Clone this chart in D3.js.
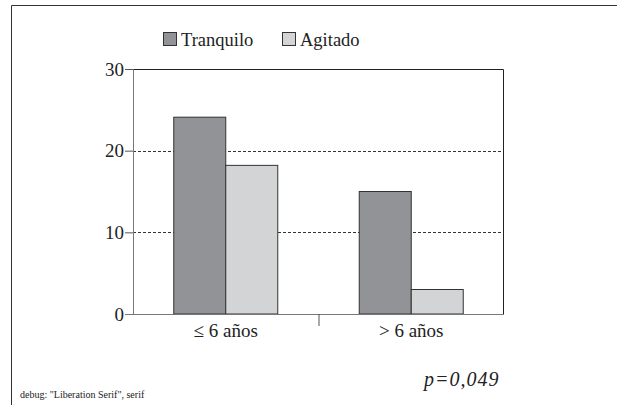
<!DOCTYPE html>
<html>
<head>
<meta charset="utf-8">
<script src="https://cdn.jsdelivr.net/npm/d3@7"></script>
</head>
<body style="margin:0">
<svg id="chart"></svg>
<script>
// data
var categories = ["≤ 6 años", "> 6 años"]
var seriesNames = ["Tranquilo", "Agitado"]
var tranquilo = [24.1, 15]
var agitado = [18.2, 3]
var yTicks = [0, 10, 20, 30]
var colors = ["#929396", "#d3d4d6"]

var size = {width:617, height:405}
var margins = {left:133, right:113, top:69, bottom:91}
var graph = {
    width: size.width - margins.left - margins.right,
    height: size.height - margins.top - margins.bottom
}

var svg = d3.select("#chart")
    .attr("width", size.width)
    .attr("height", size.height)

svg.append("style")
   .text("text{font-family:'Liberation Serif',serif !important;fill:#222}")

// outer frame (cropped at right / bottom)
svg.append("path")
   .attr("d", "M11.5," + size.height + "V5.5H" + size.width)
   .attr("fill", "none")
   .attr("stroke", "#333")

var xScale = d3.scaleBand()
    .domain(categories)
    .range([0, graph.width])

var xInner = d3.scaleBand()
    .domain(seriesNames)
    .range([0, 104])

var yScale = d3.scaleLinear()
    .domain([0, 30])
    .range([graph.height, 0])

var target = svg.append("g")
    .attr("transform", "translate(" + margins.left + "," + margins.top + ")")

// dashed grid
target.selectAll("line.grid")
    .data([10, 20])
    .enter()
    .append("line")
    .attr("x1", 0)
    .attr("x2", graph.width)
    .attr("y1", function(d){return Math.round(yScale(d)) + 0.5})
    .attr("y2", function(d){return Math.round(yScale(d)) + 0.5})
    .attr("stroke", "#333")
    .attr("stroke-dasharray", "3,2")

// top and right border
target.append("path")
    .attr("d", "M0,0.5H" + (graph.width - 0.5) + "V" + graph.height)
    .attr("fill", "none")
    .attr("stroke", "#222")

// bars
var rows = categories.map(function(c, i){
    return {cat: c, values: [tranquilo[i], agitado[i]]}
})

var groups = target.selectAll("g.group")
    .data(rows)
    .enter()
    .append("g")
    .attr("transform", function(d){
        return "translate(" + (xScale(d.cat) + xScale.bandwidth()/2 - 52) + ",0)"
    })

groups.selectAll("rect")
    .data(function(d){
        return d.values.map(function(v, j){return {name: seriesNames[j], value: v, idx: j}})
    })
    .enter()
    .append("rect")
    .attr("x", function(d){return xInner(d.name)})
    .attr("y", function(d){return yScale(d.value)})
    .attr("width", xInner.bandwidth())
    .attr("height", function(d){return graph.height - yScale(d.value)})
    .attr("fill", function(d){return colors[d.idx]})
    .attr("stroke", "#333")

// y axis
var yAxis = d3.axisLeft(yScale).tickValues(yTicks).tickSize(8).tickPadding(1)
var yg = target.append("g").call(yAxis)
yg.attr("font-size", 19)
yg.select(".domain").attr("stroke", "#777")
yg.selectAll(".tick line").attr("stroke", "#555")

// x axis
var xg = target.append("g")
    .attr("transform", "translate(0," + graph.height + ")")
xg.append("line")
    .attr("x1", -8).attr("x2", graph.width)
    .attr("y1", 0.5).attr("y2", 0.5)
    .attr("stroke", "#777")
xg.append("line")
    .attr("x1", xScale.bandwidth() + 0.5).attr("x2", xScale.bandwidth() + 0.5)
    .attr("y1", 0).attr("y2", 12)
    .attr("stroke", "#555")
xg.selectAll("text")
    .data(categories)
    .enter()
    .append("text")
    .text(function(d){return d})
    .attr("x", function(d){return xScale(d) + xScale.bandwidth()/2})
    .attr("y", 23)
    .attr("text-anchor", "middle")
    .attr("font-size", 19)

// legend
var legendX = [163, 282]
var entries = svg.append("g").selectAll("g")
    .data(seriesNames)
    .enter()
    .append("g")
    .attr("transform", function(d, i){return "translate(" + legendX[i] + ",32)"})
entries.append("rect")
    .attr("x", 0.5).attr("y", 0.5)
    .attr("width", 13).attr("height", 13)
    .attr("fill", function(d, i){return colors[i]})
    .attr("stroke", "#333")
entries.append("text")
    .text(function(d){return d})
    .attr("x", 18)
    .attr("y", 14)
    .attr("font-size", 18.5)

// p value
var pv = svg.append("text")
    .text("p=0,049")
    .attr("x", 424)
    .attr("y", 386)
    .attr("font-size", 20)
    .attr("font-style", "italic")
    .attr("letter-spacing", 1)

// temporary check of the computed font
svg.append("text")
    .attr("x", 20).attr("y", 398).attr("font-size", 10)
    .text("debug: " + getComputedStyle(pv.node()).fontFamily)
</script>
</body>
</html>
